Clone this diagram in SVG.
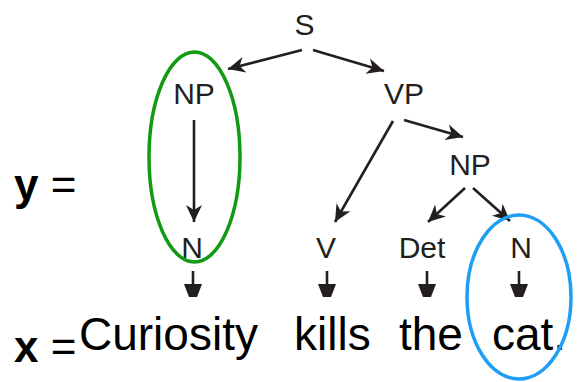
<svg xmlns="http://www.w3.org/2000/svg" width="577" height="382" viewBox="0 0 577 382">
  <style>
    .lbl { font-family: "Liberation Sans", Arial, sans-serif; font-size: 30px; fill: #231f20; text-anchor: middle; }
    .word { font-family: "Liberation Sans", Arial, sans-serif; font-size: 46px; fill: #000; }
    .var { font-family: "Liberation Sans", Arial, sans-serif; font-size: 44px; fill: #000; }
    .edge { stroke: #231f20; stroke-width: 2.6; fill: none; marker-end: url(#head); }
    .stub { stroke: #231f20; stroke-width: 2.6; fill: none; }
    .tip { fill: #231f20; }
  </style>
  <defs>
    <marker id="head" markerUnits="userSpaceOnUse" markerWidth="20" markerHeight="20" viewBox="-18 -10 20 20" refX="0" refY="0" orient="auto">
      <path d="M0,0 L-17,-8 L-12,0 L-17,8 Z" fill="#231f20"/>
    </marker>
  </defs>
  <rect width="577" height="382" fill="#fff"/>

  <!-- tree edges -->
  <g id="connectors">
    <line class="edge" x1="302" y1="50" x2="228" y2="69"/>
    <line class="edge" x1="313" y1="50" x2="384" y2="71"/>
    <line class="edge" x1="194" y1="120" x2="194" y2="222"/>
    <line class="edge" x1="393" y1="121" x2="335" y2="222"/>
    <line class="edge" x1="404" y1="120" x2="463" y2="137"/>
    <line class="edge" x1="465" y1="188" x2="428" y2="222"/>
    <line class="edge" x1="473" y1="188" x2="510" y2="221"/>
    <!-- leaf to word stubs -->
    <g id="stubs">
      <line class="stub" x1="193" y1="271" x2="193" y2="286"/>
      <polygon class="tip" points="184,284 202,284 197,297 189,297"/>
      <line class="stub" x1="327" y1="271" x2="327" y2="286"/>
      <polygon class="tip" points="318,284 336,284 331,297 323,297"/>
      <line class="stub" x1="427" y1="271" x2="427" y2="286"/>
      <polygon class="tip" points="418,284 436,284 431,297 423,297"/>
      <line class="stub" x1="519" y1="271" x2="519" y2="286"/>
      <polygon class="tip" points="510,284 528,284 523,297 515,297"/>
    </g>
  </g>

  <!-- nodes -->
  <g id="node-S"><text class="lbl" x="304.5" y="35">S</text></g>
  <g id="node-NP1"><text class="lbl" x="194" y="104">NP</text></g>
  <g id="node-VP"><text class="lbl" x="404" y="104">VP</text></g>
  <g id="node-NP2"><text class="lbl" x="470" y="175">NP</text></g>
  <g id="node-N1"><text class="lbl" x="192" y="258">N</text></g>
  <g id="node-V"><text class="lbl" x="326" y="258">V</text></g>
  <g id="node-Det"><text class="lbl" x="422" y="258">Det</text></g>
  <g id="node-N2"><text class="lbl" x="521" y="258">N</text></g>

  <!-- sentence -->
  <g id="words">
    <text class="word" x="79" y="350">Curiosity</text>
    <text class="word" x="294" y="350">kills</text>
    <text class="word" x="399" y="350">the</text>
    <text class="word" x="492" y="350">cat.</text>
  </g>

  <!-- variable labels -->
  <g id="labels">
    <text class="var" x="14" y="200"><tspan font-weight="bold">y</tspan> =</text>
    <text class="var" x="14" y="362"><tspan font-weight="bold">x</tspan> =</text>
  </g>

  <!-- highlight ellipses -->
  <g id="highlights" fill="none" stroke-width="3.5">
    <ellipse cx="194.5" cy="157" rx="45.5" ry="105" stroke="#139a13"/>
    <ellipse cx="519" cy="297" rx="52" ry="82" stroke="#1e9ef5"/>
  </g>
</svg>
